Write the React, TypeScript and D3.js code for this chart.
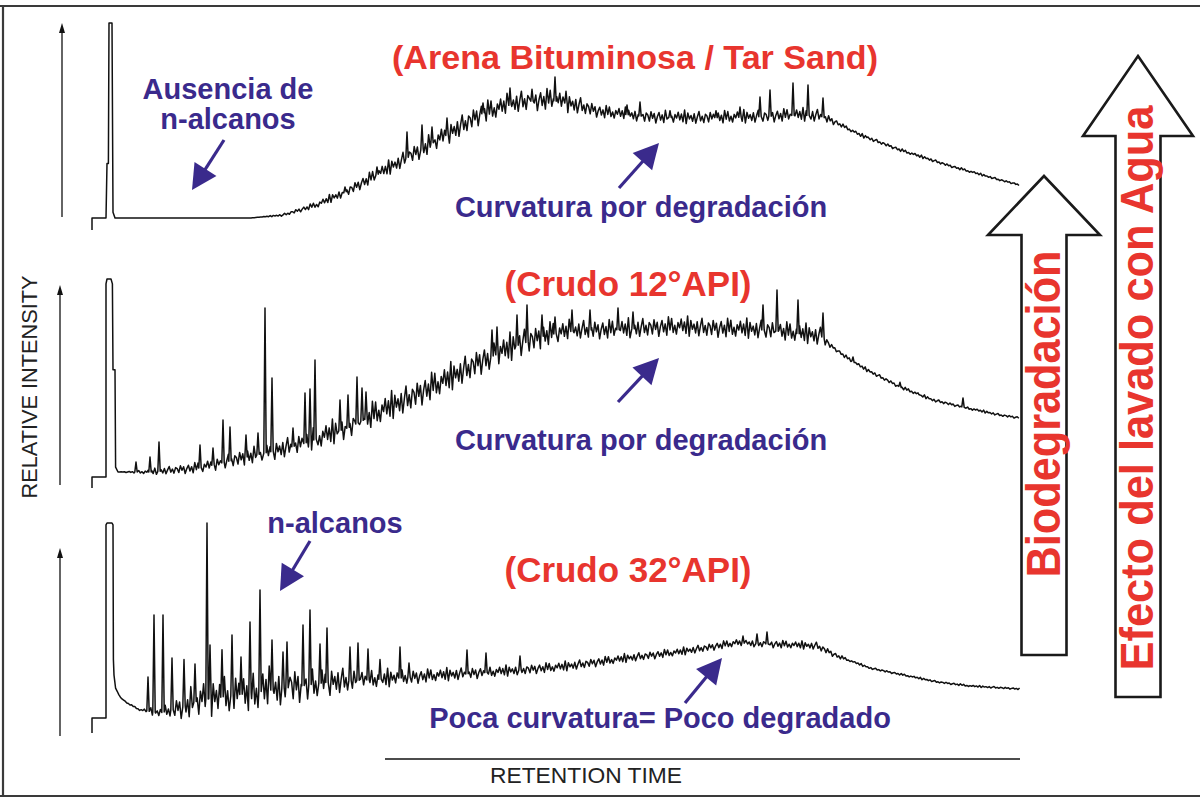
import React from 'react';
import * as d3 from 'd3';

type P = [number, number];

// Retention time (arbitrary minutes) and relative intensity (0-100 per chromatogram)
const TIME_DOMAIN: P = [0, 47];
const TITLES = ['(Arena Bituminosa / Tar Sand)', '(Crudo 12°API)', '(Crudo 32°API)'];

// ---- Chromatogram 1: Tar sand ----
const SOLVENT_1: P[] = [[0.6, -6.2], [0.6, 0], [1.3, 0], [1.35, 28], [1.42, 28], [1.45, 100], [1.6, 100], [1.65, 3], [1.75, 0]];
const ENV_1: P[] = [[1.75, 0], [8.5, 0], [10.15, 1.5], [11.85, 6.7], [13.5, 14.4], [16, 28.7], [18.5, 43.6], [20.15, 53.8], [22, 59.5], [23.5, 60.5], [25, 57.4], [26, 54.4], [28.5, 51.8], [31, 51.3], [33.5, 51.8], [36, 52.8], [37, 52.3], [37.75, 49.2], [39, 42.6], [41, 34.9], [43.5, 26.7], [46, 19.5], [47, 16.9]];
const PEAKS_1: P[] = [[13.25, 15.9], [14.85, 26.2], [16.35, 44.1], [17.1, 47.7], [17.6, 46.7], [18.35, 51.3], [20.15, 59], [21.5, 66.7], [22.6, 66], [23.75, 72.3], [24.3, 65], [27.35, 57.9], [28, 59.5], [29.5, 55], [31.8, 55], [33, 56.9], [34, 62], [34.5, 65.6], [35.65, 69.2], [36.4, 68.2], [37.15, 61.5], [39.4, 41.5]];
const FUZZ_AMP_1: P[] = [[1.75, 0], [9, 0], [11, 1], [13, 2.2], [16, 3.6], [18, 5], [24, 5], [26, 3], [37, 3], [38, 0.9], [47, 0.4]];

// ---- Chromatogram 2: Crudo 12°API ----
const SOLVENT_2: P[] = [[0.6, -7.7], [0.6, -2.1], [1.3, -2.1], [1.3, 97], [1.35, 99.5], [1.55, 99.5], [1.62, 97], [1.65, 53], [1.75, 53], [1.78, 3], [1.9, 0.5]];
const ENV_2: P[] = [[1.9, 0.5], [3.5, 0.5], [6, 2.6], [8.5, 8.5], [11, 14.4], [13.5, 23.6], [15, 31.3], [16, 35.9], [18.35, 47.7], [20, 56.9], [21.65, 64.6], [23.35, 70.8], [25, 73.3], [26.65, 73.3], [28.35, 74.4], [30, 74.9], [31, 74.4], [34.35, 73.3], [36.5, 70.8], [37.15, 69.7], [37.35, 66.7], [38.5, 57.9], [39.35, 52.8], [41, 44.1], [42.65, 37.4], [44.35, 33.3], [46, 29.7], [47, 28.2]];
const PEAKS_2: P[] = [[2.8, 5.6], [3.5, 8.2], [3.95, 15.9], [6, 14.4], [6.65, 12.8], [7.15, 27.2], [7.5, 23.6], [8.3, 19.5], [8.9, 20.5], [9.25, 84.6], [9.6, 48.7], [10.65, 23.1], [11.25, 41], [11.5, 43.1], [11.75, 57.9], [13, 37.4], [13.4, 40], [13.85, 49.2], [14.1, 43.6], [14.3, 41.5], [20.6, 73.3], [20.85, 74.9], [21.85, 81], [22.35, 86.2], [23.1, 81], [23.75, 80], [24.6, 83.6], [25.5, 83.6], [26.9, 84.6], [27.65, 82.6], [34.15, 86.2], [34.85, 93.8], [35.9, 88.7], [37.15, 82], [38.65, 59.5], [41, 46.5], [42, 40], [44.15, 38.5]];
const FUZZ_AMP_2: P[] = [[1.9, 0], [2.5, 0.4], [4, 1.6], [8, 3.6], [12, 5.5], [16, 6.5], [22, 6.5], [25, 4.5], [37, 4.5], [37.6, 0.9], [47, 0.5]];

// ---- Chromatogram 3: Crudo 32°API ----
const SOLVENT_3: P[] = [[0.6, -7.7], [0.6, 0], [1.3, 0], [1.3, 99], [1.35, 100], [1.6, 100], [1.65, 99], [1.67, 30]];
const ENV_3: P[] = [[1.7, 22], [1.75, 15.9], [2, 10.8], [2.35, 7.7], [3, 4.1], [4, 2.6], [5, 5.1], [6, 9.2], [8.5, 12.8], [11, 16.4], [12.5, 18.5], [16, 20.5], [17.5, 21.5], [20.85, 23.6], [24.15, 26.2], [27.5, 30.8], [30, 33.8], [32.85, 38.5], [34.5, 37.9], [36.85, 36.9], [37.85, 31.8], [39.5, 25.6], [41.15, 22.1], [42.85, 18.5], [44.5, 16.4], [47, 14.9]];
const PEAKS_3: P[] = [[3.4, 21], [3.7, 52.8], [4.15, 52.8], [4.6, 30.8], [5.2, 30], [5.75, 27.7], [6.35, 100], [6.5, 37.4], [7.1, 35], [7.6, 42.6], [8.05, 31.3], [8.5, 49.2], [9, 65.6], [9.6, 40], [10.15, 33.8], [10.35, 39], [11.15, 47.7], [11.5, 55.4], [12, 38], [12.35, 46.2], [13.5, 36.4], [13.9, 38.5], [14.4, 35.4], [15, 30], [16, 36.4], [16.45, 28.2], [19.35, 34.9], [20.3, 33.3], [22, 31.8], [33.15, 42], [33.85, 43.1], [34.35, 44.1]];
const FUZZ_AMP_3: P[] = [[1.7, 0], [3, 0.4], [4.5, 3.5], [6, 9], [9, 10], [12, 7.5], [14, 5], [17, 3.2], [22, 2.4], [30, 1.8], [37, 1.8], [38.5, 0.5], [47, 0.4]];

// hand-typed ripple texture for the unresolved complex mixture
const FUZZ = [0.3, -0.7, 0.9, -0.2, 0.6, -1, 0.1, 0.8, -0.5, 0.4, -0.9, 1.2, -0.3, 1, -0.6, 0.2, -0.8, 0.5, -0.1, 0.9, -0.4, 0.6, -0.7, 1.3, -1, 0.8, -0.2, 0.4, -0.6, 0.7, -0.9, 0.2, 1.1, -0.5, 0.3, -0.8, 0.6];

// intensity axis arrows (time position, low/high intensity)
const AXIS_T = [-0.9, -1, -1];
const AXIS_LO = [0.5, -6.2, -9.2];
const AXIS_HI = [100, 96.4, 87.2];

const BASELINES = [218, 473, 718];
const RED = '#e8352e';
const BLUE = '#3a2a8c';

function tracePoints(solvent: P[], env: P[], peaks: P[], fuzz: P[]): P[] {
  const envS = d3.scaleLinear().domain(env.map(d => d[0])).range(env.map(d => d[1])).clamp(true);
  const ampS = d3.scaleLinear().domain(fuzz.map(d => d[0])).range(fuzz.map(d => d[1])).clamp(true);
  const t0 = env[0][0];
  const t1 = env[env.length - 1][0];
  const W = 0.06;
  const step = 0.08;
  const near = (t: number) => peaks.some(p => Math.abs(p[0] - t) < W * 1.3);
  const pts: P[] = [];
  const n = Math.floor((t1 - t0) / step + 1e-9);
  for (let k = 0; k <= n; k++) {
    const t = t0 + k * step;
    if (near(t)) continue;
    pts.push([t, envS(t) + ampS(t) * FUZZ[k % FUZZ.length]]);
  }
  peaks.forEach(([tp, top]) => {
    pts.push([tp - W, envS(tp - W)], [tp, top], [tp + W, envS(tp + W)]);
  });
  pts.sort((a, b) => a[0] - b[0]);
  return [...solvent, ...pts];
}

function BlueArrow({ x1, y1, x2, y2 }: { x1: number; y1: number; x2: number; y2: number }) {
  const dx = x2 - x1, dy = y2 - y1;
  const L = Math.hypot(dx, dy);
  const ux = dx / L, uy = dy / L;
  const hl = 25, hw = 13;
  const bx = x2 - ux * hl, by = y2 - uy * hl;
  const pts = [[x2, y2], [bx - uy * hw, by + ux * hw], [bx + uy * hw, by - ux * hw]];
  return (
    <g>
      <line x1={x1} y1={y1} x2={bx + ux * 2} y2={by + uy * 2} stroke={BLUE} strokeWidth={3.2} />
      <polygon points={pts.map(p => p.join(',')).join(' ')} fill={BLUE} />
    </g>
  );
}

function BigArrow({ cx, tipY, headY, headHalf, shaftHalf, bottom }: { cx: number; tipY: number; headY: number; headHalf: number; shaftHalf: number; bottom: number }) {
  const pts = [
    [cx, tipY], [cx + headHalf, headY], [cx + shaftHalf, headY], [cx + shaftHalf, bottom],
    [cx - shaftHalf, bottom], [cx - shaftHalf, headY], [cx - headHalf, headY],
  ];
  return <polygon points={pts.map(p => p.join(',')).join(' ')} fill="#fff" stroke="#1a1a1a" strokeWidth={2.6} strokeLinejoin="miter" />;
}

export default function App() {
  const x = d3.scaleLinear().domain(TIME_DOMAIN).range([80, 1020]);
  const panels = [
    { solvent: SOLVENT_1, env: ENV_1, peaks: PEAKS_1, fuzz: FUZZ_AMP_1 },
    { solvent: SOLVENT_2, env: ENV_2, peaks: PEAKS_2, fuzz: FUZZ_AMP_2 },
    { solvent: SOLVENT_3, env: ENV_3, peaks: PEAKS_3, fuzz: FUZZ_AMP_3 },
  ];
  const font = "'Liberation Sans', Arial, Helvetica, sans-serif";

  return (
    <svg width={1200} height={803} style={{ position: 'absolute', left: 0, top: 0, display: 'block' }} fontFamily={font}>
      <rect x={0} y={0} width={1200} height={803} fill="#fff" />
      {/* frame */}
      <line x1={0} y1={6} x2={1200} y2={6} stroke="#3a3a3a" strokeWidth={2.2} />
      <line x1={3} y1={6} x2={3} y2={796} stroke="#3a3a3a" strokeWidth={2.2} />
      <line x1={0} y1={796} x2={1200} y2={796} stroke="#3a3a3a" strokeWidth={2.2} />

      {panels.map((p, i) => {
        const y = d3.scaleLinear().domain([0, 100]).range([BASELINES[i], BASELINES[i] - 195]);
        const line = d3.line<P>().x(d => x(d[0])).y(d => y(d[1]));
        const pts = tracePoints(p.solvent, p.env, p.peaks, p.fuzz);
        const ax = x(AXIS_T[i]);
        const ylo = y(AXIS_LO[i]);
        const yhi = y(AXIS_HI[i]);
        return (
          <g key={i}>
            <line x1={ax} y1={ylo} x2={ax} y2={yhi + 4} stroke="#111" strokeWidth={1.3} />
            <polygon points={`${ax - 3},${yhi + 10} ${ax},${yhi} ${ax + 3},${yhi + 10}`} fill="#111" />
            <path d={line(pts) || ''} fill="none" stroke="#111" strokeWidth={1.5} strokeLinejoin="round" />
          </g>
        );
      })}

      {/* axis titles */}
      <text transform="translate(37,387) rotate(-90)" textAnchor="middle" fontSize={22} fill="#222" textLength={223} lengthAdjust="spacingAndGlyphs">RELATIVE INTENSITY</text>
      <line x1={x(15.25)} y1={759} x2={x(47)} y2={759} stroke="#111" strokeWidth={1.3} />
      <text x={586} y={783} textAnchor="middle" fontSize={22} fill="#222" textLength={192} lengthAdjust="spacingAndGlyphs">RETENTION TIME</text>

      {/* red titles */}
      <text x={635} y={69} textAnchor="middle" fontSize={34} fontWeight="bold" fill={RED} textLength={486} lengthAdjust="spacingAndGlyphs">{TITLES[0]}</text>
      <text x={628} y={296} textAnchor="middle" fontSize={35} fontWeight="bold" fill={RED} textLength={247} lengthAdjust="spacingAndGlyphs">{TITLES[1]}</text>
      <text x={628} y={582} textAnchor="middle" fontSize={35} fontWeight="bold" fill={RED} textLength={247} lengthAdjust="spacingAndGlyphs">{TITLES[2]}</text>

      {/* blue annotations */}
      <g fill={BLUE} fontWeight="bold" fontSize={29}>
        <text x={228} y={99} textAnchor="middle">Ausencia de</text>
        <text x={228} y={129} textAnchor="middle">n-alcanos</text>
        <text x={641} y={217} textAnchor="middle">Curvatura por degradación</text>
        <text x={641} y={450} textAnchor="middle">Curvatura por degradación</text>
        <text x={335} y={533} textAnchor="middle">n-alcanos</text>
        <text x={660} y={728} textAnchor="middle">Poca curvatura= Poco degradado</text>
      </g>
      <BlueArrow x1={224} y1={140} x2={192} y2={190} />
      <BlueArrow x1={619} y1={188} x2={659} y2={143} />
      <BlueArrow x1={618} y1={402} x2={659} y2={358} />
      <BlueArrow x1={310} y1={541} x2={280} y2={591} />
      <BlueArrow x1={685} y1={703} x2={722} y2={658} />

      {/* big process arrows */}
      <BigArrow cx={1044} tipY={176} headY={235} headHalf={56} shaftHalf={22.5} bottom={655} />
      <BigArrow cx={1138} tipY={56} headY={136} headHalf={55} shaftHalf={22.5} bottom={697} />
      <text transform="translate(1060,414) rotate(-90)" textAnchor="middle" fontSize={48} fontWeight="bold" fill={RED} textLength={327} lengthAdjust="spacingAndGlyphs">Biodegradación</text>
      <text transform="translate(1153,388) rotate(-90)" textAnchor="middle" fontSize={46} fontWeight="bold" fill={RED} textLength={565} lengthAdjust="spacingAndGlyphs">Efecto del lavado con Agua</text>
    </svg>
  );
}
